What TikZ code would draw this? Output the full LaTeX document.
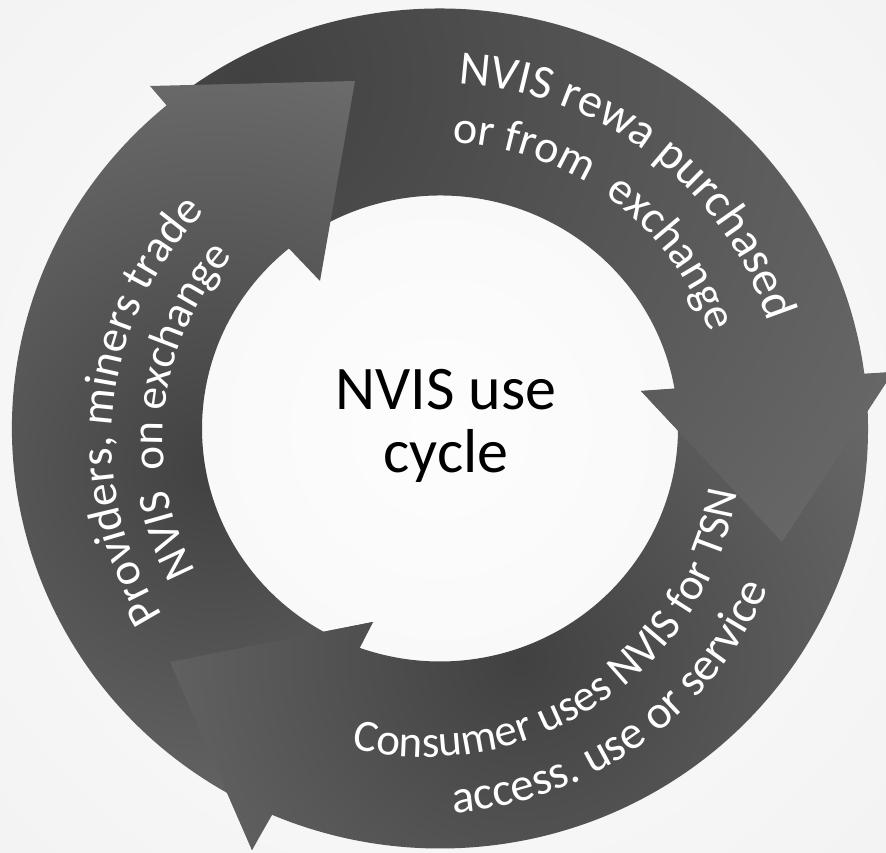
\documentclass[tikz,border=0pt]{standalone}
\usepackage{fontspec}
\setmainfont{Carlito}
\usetikzlibrary{decorations.text}
\definecolor{bgin}{HTML}{FDFDFD}
\definecolor{bgout}{HTML}{EEEEEE}
\definecolor{adark}{HTML}{414141}
\definecolor{alight}{HTML}{7C7C7C}
% shaded region: #1 path, (#2,#3) dark centre, #4 half size (= 2 x fade distance)
\newcommand\ArrowFill[4]{%
  \begin{scope}
    \clip #1;
    \shade[inner color=adark, outer color=alight]
      ({#2-#4},{#3-#4}) rectangle ({#2+#4},{#3+#4});
  \end{scope}}
\def\arrowA{(127:428 and 420) arc[start angle=127, end angle=7.5, x radius=428, y radius=420]
  -- (453,56.5) -- (342,-113.5) -- (201,37.5)
  -- (9.8:238 and 233) arc[start angle=9.8, end angle=127, x radius=238, y radius=233] -- cycle}
\def\headA{(453,56.5) -- (342,-113.5) -- (201,37.5) -- cycle}
\def\arrowB{(5:428 and 420) arc[start angle=5, end angle=-113.1, x radius=428, y radius=420]
  -- (-188,-421.5) -- (-270,-233.5) -- (-67,-193.5)
  -- (-109.7:238 and 233) arc[start angle=-109.7, end angle=5, x radius=238, y radius=233] -- cycle}
\def\headB{(-188,-421.5) -- (-270,-233.5) -- (-67,-193.5) -- cycle}
\def\arrowC{(245:428 and 420) arc[start angle=245, end angle=129.7, x radius=428, y radius=420]
  -- (-290,342.5) -- (-85,347.5) -- (-120,147.5)
  -- (129.4:238 and 233) arc[start angle=129.4, end angle=245, x radius=238, y radius=233] -- cycle}
\begin{document}
\begin{tikzpicture}[x=1pt,y=1pt,
  curvetext/.style={decorate, decoration={text along path, text align=center,
     text color=white, text={#1}}},
  centertext/.style={anchor=base, text=black, font=\fontsize{62}{62}\selectfont, inner sep=0pt}]
\useasboundingbox (0,0) rectangle (886,852);
\clip (0,0) rectangle (886,852);
% background
\shade[inner color=bgin, outer color=bgout] (-460,-476.5) rectangle (1340,1323.5);
\begin{scope}[shift={(440,423.5)}]
  % arrows
  \ArrowFill{\arrowA}{-190}{348.5}{1120}
  \ArrowFill{\arrowB}{80}{-231.5}{660}
  \ArrowFill{\arrowC}{-225}{-41.5}{580}
  % heads lying over the next arrow's start
  \ArrowFill{\headA}{-190}{348.5}{1120}
  \ArrowFill{\headB}{80}{-231.5}{660}
  % top text
  \path[curvetext={|\fontsize{48}{48}\selectfont|NVIS rewa purchased}]
    (122.5:345) arc[start angle=122.5, end angle=-17.5, radius=345];
  \path[curvetext={|\fontsize{46}{46}\selectfont|or from {\ }exchange}]
    (123.5:286) arc[start angle=123.5, end angle=-16.5, radius=286];
  % left text
  \begin{scope}[shift={(0,-11.5)}]
    \path[curvetext={|\fontsize{46}{46}\selectfont|Providers, miners trade}]
      (244:328) arc[start angle=244, end angle=104, radius=328];
    \path[curvetext={|\fontsize{45}{45}\selectfont|NVIS {\ }on exchange}]
      (243.3:277) arc[start angle=243.3, end angle=103.3, radius=277];
  \end{scope}
  % bottom text
  \begin{scope}[shift={(-15,-11.5)}]
    \path[curvetext={|\fontsize{45}{45}\selectfont|Consumer uses NVIS for TSN}]
      (233.6:317) arc[start angle=233.6, end angle=373.6, radius=317];
    \path[curvetext={|\fontsize{47}{47}\selectfont|access. use or service}]
      (235.5:374) arc[start angle=235.5, end angle=375.5, radius=374];
  \end{scope}
  % centre label
  \node[centertext] (lineA) at (6,18.5) {NVIS use};
  \node[centertext] (lineB) at (6,-44.5) {cycle};
\end{scope}
\end{tikzpicture}
\end{document}
